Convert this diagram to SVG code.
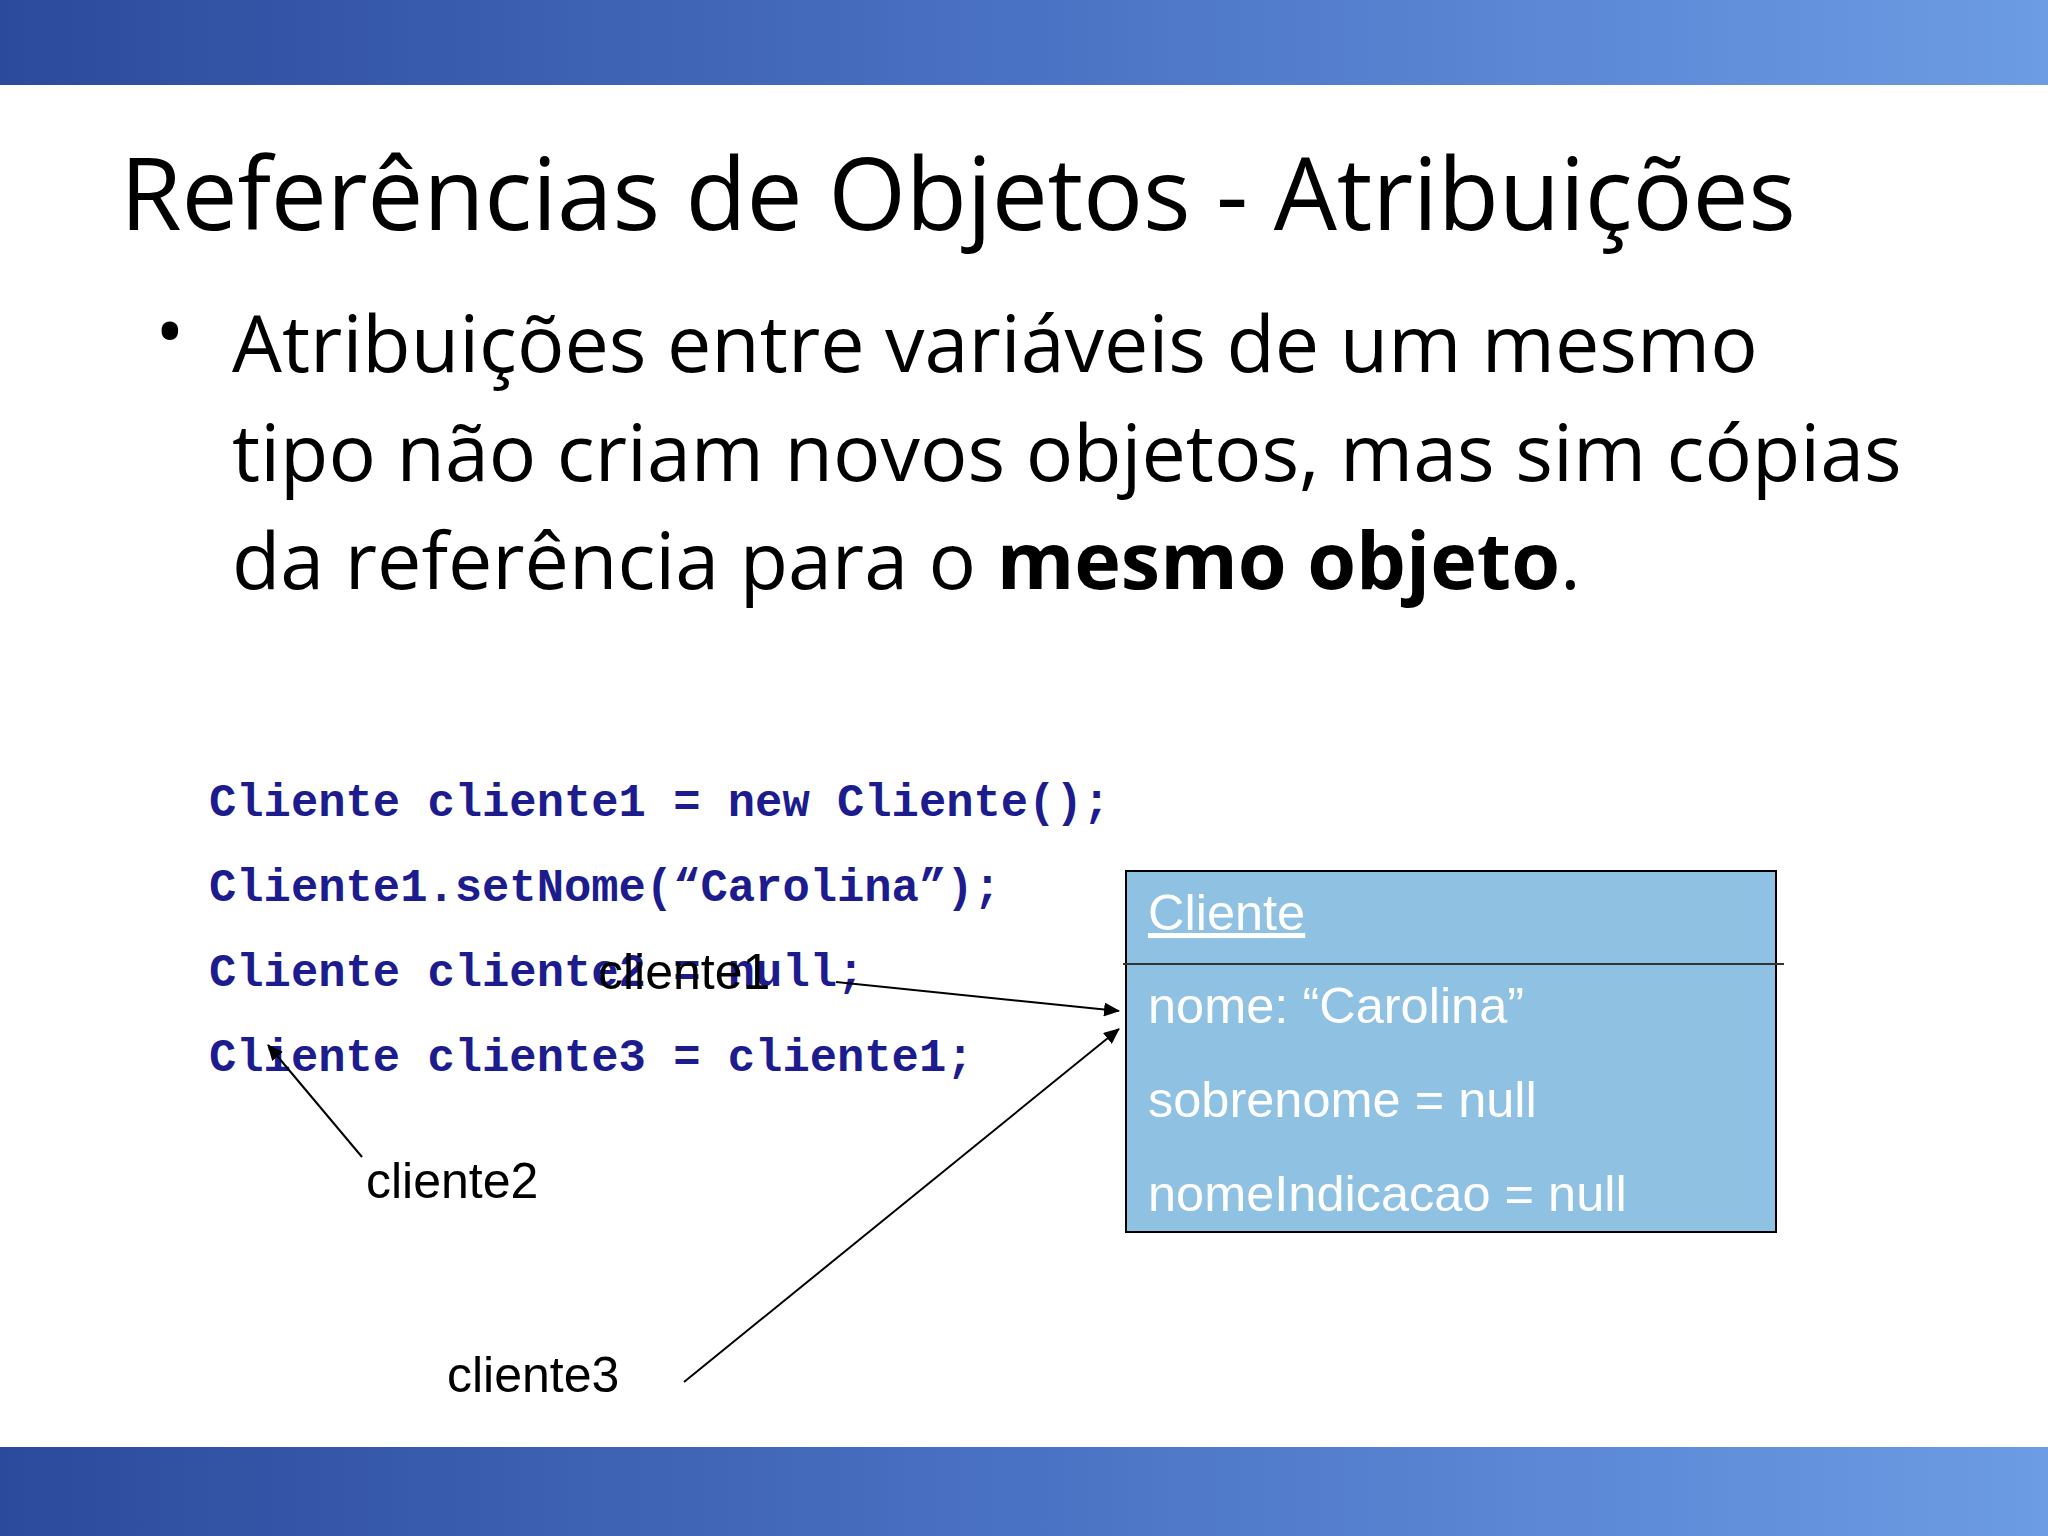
<svg xmlns="http://www.w3.org/2000/svg" width="2048" height="1536" viewBox="0 0 2048 1536">
<defs>
<linearGradient id="bn" x1="0" y1="0" x2="1" y2="0"><stop offset="0" stop-color="#2c4a9c"/><stop offset="0.5" stop-color="#4a72c4"/><stop offset="1" stop-color="#6c9ce4"/></linearGradient>
<marker id="ah" markerWidth="16" markerHeight="14" refX="15" refY="7" orient="auto" markerUnits="userSpaceOnUse" viewBox="0 0 16 14"><path d="M0,0 L16,7 L0,14 z" fill="#000"/></marker>
</defs>
<style>
.code{font-family:"Liberation Mono",monospace;font-weight:bold;font-size:45.5px;fill:#1c1c8e}
.body{font-family:"Open Sans","Noto Sans",sans-serif;font-size:79px;fill:#000}
.box{font-family:"Liberation Sans",Arial,sans-serif;font-size:50.5px;fill:#fff}
.lbl{font-family:"Liberation Sans",Arial,sans-serif;font-size:50px;fill:#000}
.conn{stroke:#000;stroke-width:2;fill:none;marker-end:url(#ah)}
</style>
<rect width="2048" height="1536" fill="#fff"/>
<rect x="0" y="0" width="2048" height="85" fill="url(#bn)"/>
<rect x="0" y="1447" width="2048" height="89" fill="url(#bn)"/>
<text x="120" y="230" style="font-family:'Open Sans','Noto Sans',sans-serif;font-size:100px" textLength="1676">Referências de Objetos - Atribuições</text>
<text x="155" y="360" class="body">•</text>
<text x="232" y="372" class="body">Atribuições entre variáveis de um mesmo</text>
<text x="232" y="481" class="body">tipo não criam novos objetos, mas sim cópias</text>
<text x="232" y="589" class="body">da referência para o <tspan font-weight="bold">mesmo objeto</tspan>.</text>
<g id="code">
<text x="209" y="816" class="code">Cliente cliente1 = new Cliente();</text>
<text x="209" y="901" class="code">Cliente1.setNome(“Carolina”);</text>
<text x="209" y="986" class="code">Cliente cliente2 = null;</text>
<text x="209" y="1071" class="code">Cliente cliente3 = cliente1;</text>
</g>
<g id="cliente-box">
<rect x="1126" y="871" width="650" height="361" fill="#8fc1e3" stroke="#000" stroke-width="2"/>
<line x1="1123" y1="964" x2="1784" y2="964" stroke="#333" stroke-width="2"/>
<text x="1148" y="930" class="box" text-decoration="underline">Cliente</text>
<text x="1148" y="1023" class="box">nome: “Carolina”</text>
<text x="1148" y="1117" class="box">sobrenome = null</text>
<text x="1148" y="1211" class="box">nomeIndicacao = null</text>
</g>
<g id="labels">
<text x="598" y="989" class="lbl">cliente1</text>
<text x="366" y="1198" class="lbl">cliente2</text>
<text x="447" y="1392" class="lbl">cliente3</text>
</g>
<g id="connectors">
<line x1="836" y1="982" x2="1119" y2="1011" class="conn"/>
<line x1="362" y1="1157" x2="268" y2="1045" class="conn"/>
<line x1="684" y1="1382" x2="1119" y2="1029" class="conn"/>
</g>
</svg>
